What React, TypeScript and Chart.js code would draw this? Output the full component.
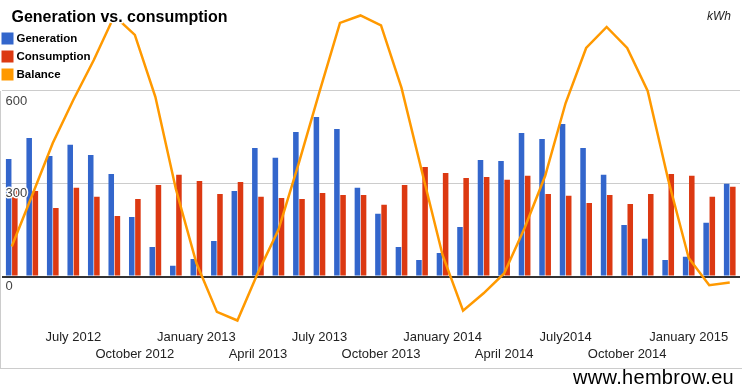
import React, { useEffect, useRef } from "react";
import { Chart, registerables } from "chart.js";

Chart.register(...registerables);

const months = [
  "Apr 2012", "May 2012", "Jun 2012", "Jul 2012", "Aug 2012", "Sep 2012",
  "Oct 2012", "Nov 2012", "Dec 2012", "Jan 2013", "Feb 2013", "Mar 2013",
  "Apr 2013", "May 2013", "Jun 2013", "Jul 2013", "Aug 2013", "Sep 2013",
  "Oct 2013", "Nov 2013", "Dec 2013", "Jan 2014", "Feb 2014", "Mar 2014",
  "Apr 2014", "May 2014", "Jun 2014", "Jul 2014", "Aug 2014", "Sep 2014",
  "Oct 2014", "Nov 2014", "Dec 2014", "Jan 2015", "Feb 2015", "Mar 2015",
];

const tickLabels = [
  "", "", "", "July 2012", "", "",
  "October 2012", "", "", "January 2013", "", "",
  "April 2013", "", "", "July 2013", "", "",
  "October 2013", "", "", "January 2014", "", "",
  "April 2014", "", "", "July2014", "", "",
  "October 2014", "", "", "January 2015", "", "",
];

const generation = [
  380, 448, 390, 426, 393, 332, 193, 96, 35, 57, 115, 277,
  416, 384, 467, 516, 477, 287, 203, 96, 54, 76, 160, 377,
  374, 464, 445, 493, 416, 329, 167, 122, 54, 64, 174, 300,
];

const consumption = [
  286, 277, 222, 287, 258, 196, 251, 296, 329, 309, 267, 306,
  258, 254, 251, 270, 264, 264, 232, 296, 354, 335, 319, 322,
  313, 326, 267, 261, 238, 264, 235, 267, 332, 326, 258, 290,
];

const balance = [
  97, 264, 432, 571, 700, 843, 781, 581, 283, 44, -114, -142,
  12, 151, 368, 597, 820, 844, 812, 610, 338, 70, -110, -54,
  10, 157, 325, 561, 739, 807, 739, 600, 313, 60, -28, -19,
];

const yTicks = [0, 300, 600];

const seriesNames = ["Generation", "Consumption", "Balance"];
const seriesColors = ["#3366cc", "#dc3912", "#ff9900"];
const titleText = "Generation vs. consumption";
const unitText = "kWh";
const footerText = "www.hembrow.eu";

const FONT = '"Liberation Sans", Arial, Helvetica, sans-serif';

const overlayPlugin = {
  id: "overlayText",
  afterDraw(chart: any) {
    const ctx = chart.ctx as CanvasRenderingContext2D;
    ctx.save();
    ctx.lineJoin = "round";
    ctx.strokeStyle = "#ffffff";
    ctx.lineWidth = 3;
    const halo = (t: string, x: number, y: number) => {
      ctx.strokeText(t, x, y);
      ctx.fillText(t, x, y);
    };
    // y-axis value labels, drawn on top of the bars (below each gridline)
    const ys = chart.scales.y;
    ctx.font = `13px ${FONT}`;
    ctx.fillStyle = "#444444";
    ctx.textAlign = "left";
    ctx.textBaseline = "middle";
    ys.ticks.forEach((t: any) => {
      const py = ys.getPixelForValue(t.value) + 10;
      halo(String(t.value), chart.chartArea.left + 4, py);
    });
    // title
    ctx.font = `bold 16px ${FONT}`;
    ctx.fillStyle = "#000000";
    ctx.textAlign = "left";
    ctx.textBaseline = "alphabetic";
    halo(titleText, 11.5, 22);
    // unit
    ctx.font = `italic 12px ${FONT}`;
    ctx.fillStyle = "#222222";
    ctx.textAlign = "right";
    ctx.textBaseline = "middle";
    ctx.fillText(unitText, 731, 17);
    // legend
    ctx.textAlign = "left";
    ctx.font = `bold 11.5px ${FONT}`;
    seriesNames.forEach((name, i) => {
      const cy = 38.5 + i * 18;
      ctx.fillStyle = seriesColors[i];
      ctx.fillRect(1.5, cy - 6, 12, 12);
      ctx.fillStyle = "#000000";
      halo(name, 16.5, cy);
    });
    ctx.restore();
  },
};

export default function App() {
  const canvasRef = useRef<HTMLCanvasElement | null>(null);

  useEffect(() => {
    if (!canvasRef.current) return;
    Chart.defaults.font.family = FONT;
    const chart = new Chart(canvasRef.current, {
      type: "bar",
      data: {
        labels: months,
        datasets: [
          {
            type: "line",
            label: seriesNames[2],
            data: balance,
            borderColor: seriesColors[2],
            backgroundColor: seriesColors[2],
            borderWidth: 2.5,
            pointRadius: 0,
            tension: 0,
            order: 0,
          } as any,
          {
            label: seriesNames[0],
            data: generation,
            backgroundColor: seriesColors[0],
            barPercentage: 0.9,
            categoryPercentage: 0.6,
            order: 1,
          },
          {
            label: seriesNames[1],
            data: consumption,
            backgroundColor: seriesColors[1],
            barPercentage: 0.9,
            categoryPercentage: 0.6,
            order: 1,
          },
        ],
      },
      options: {
        responsive: false,
        animation: false,
        layout: { padding: { left: 1.5, right: 2, top: 0, bottom: 0 } },
        plugins: {
          legend: { display: false },
          tooltip: { enabled: false },
          title: { display: false },
        },
        scales: {
          x: {
            type: "category",
            offset: true,
            grid: { display: false, drawTicks: false },
            border: { display: false },
            ticks: {
              autoSkip: false,
              maxRotation: 0,
              minRotation: 0,
              padding: 6,
              color: "#222222",
              font: { size: 13, lineHeight: 1.28 },
              callback: (_v: any, i: number) => {
                const t = tickLabels[i];
                if (!t) return ["", ""];
                const row = (i / 3) % 2 === 1 ? 0 : 1;
                return row === 0 ? [t, ""] : ["", t];
              },
            },
            afterFit: (s: any) => {
              s.height = 45;
              s.paddingLeft = 0;
              s.paddingRight = 0;
            },
          },
          y: {
            min: -150,
            max: 894,
            grid: {
              drawTicks: false,
              color: (c: any) => (c.tick && c.tick.value === 0 ? "#333333" : "#cccccc"),
              lineWidth: (c: any) => (c.tick && c.tick.value === 0 ? 2 : 1),
            },
            border: { display: false },
            afterBuildTicks: (s: any) => {
              s.ticks = yTicks.map((v) => ({ value: v }));
            },
            ticks: { display: false },
            afterFit: (s: any) => {
              s.width = 0;
              s.paddingTop = 0;
              s.paddingBottom = 0;
            },
          },
        },
      } as any,
      plugins: [overlayPlugin],
    });
    return () => chart.destroy();
  }, []);

  return (
    <div
      style={{
        position: "absolute",
        left: 0,
        top: 0,
        width: 742,
        height: 390,
        background: "#ffffff",
        overflow: "hidden",
      }}
    >
      <canvas
        ref={canvasRef}
        width={742}
        height={368}
        style={{ position: "absolute", left: 0, top: 0, width: 742, height: 368 }}
      />
      <div style={{ position: "absolute", left: 0, top: 91, width: 1, height: 277, background: "#cccccc" }} />
      <div style={{ position: "absolute", left: 0, top: 368, width: 742, height: 1, background: "#cccccc" }} />
      <div
        style={{
          position: "absolute",
          right: 8,
          top: 366,
          fontFamily: FONT,
          fontSize: 20,
          lineHeight: "23px",
          color: "#000000",
          letterSpacing: 0.3,
          whiteSpace: "nowrap",
        }}
      >
        {footerText}
      </div>
    </div>
  );
}
